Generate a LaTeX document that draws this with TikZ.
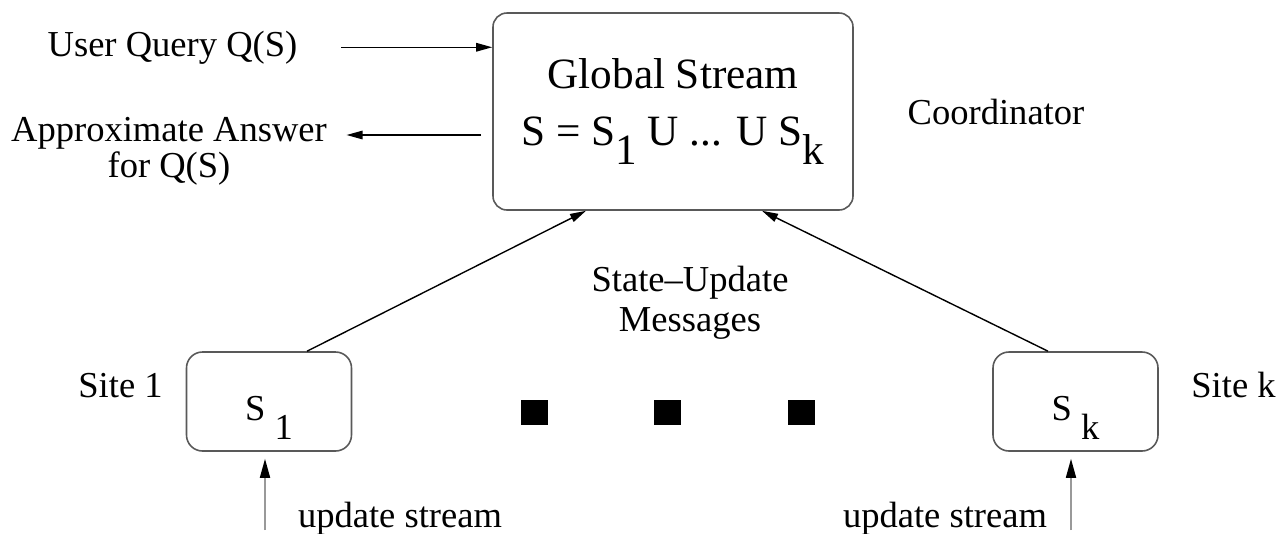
\documentclass[tikz,border=0pt]{standalone}
\usepackage{fontspec}
\setmainfont{Liberation Serif}
\usetikzlibrary{positioning, arrows.meta}

\begin{document}
\begin{tikzpicture}[
        hub/.style={rectangle, rounded corners=0.14cm, draw=black!65, line width=0.45pt, minimum width=3.6cm, minimum height=1.97cm, align=center, inner sep=0pt, font=\fontsize{12.3}{14}\selectfont},
        site/.style={rectangle, rounded corners=0.16cm, draw=black!65, line width=0.45pt, minimum width=1.65cm, minimum height=0.99cm, inner sep=0pt, text height=0.45cm, text depth=0.08cm, font=\fontsize{10.4}{12}\selectfont},
        txt/.style={inner sep=0pt, font=\fontsize{10.4}{12}\selectfont},
        dot/.style={rectangle, fill=black, inner sep=0pt, minimum width=0.27cm, minimum height=0.25cm},
        flow/.style={-{Triangle[length=0.16cm, width=0.085cm]}, line width=0.4pt},
        feed/.style={-{Triangle[length=0.19cm, width=0.1cm, black]}, draw=black!40, line width=0.5pt}
    ]
    \useasboundingbox (0,0) rectangle (12.81,5.33);
    \coordinate (ground) at (0,0.03);

    % coordinator and the sites
    \node[hub] (coord) at (6.73, 4.215) {Global Stream\\[2.4pt]S = S\raisebox{-0.44em}{1} U ... U S\raisebox{-0.44em}{k}};
    \node[site] (site1) at (2.69, 1.315) {S \raisebox{-0.54em}{1}};
    \node[site] (sitek) at (10.755, 1.315) {S \raisebox{-0.54em}{k}};

    % texts round the boxes
    \node[txt, anchor=base] (query) at (1.725, 4.77) {User Query Q(S)};
    \node[txt, anchor=north, align=center] (answer) at (1.69, 4.16) {Approximate Answer\\[-1.8pt]for Q(S)};
    \node[txt, anchor=base] (coordname) at (9.96, 4.09) {Coordinator};
    \node[txt, anchor=north, align=center] (msgs) at (6.90, 2.68) {State--Update\\[-0.6pt]Messages};
    \node[txt, anchor=base] (site1name) at (1.205, 1.36) {Site 1};
    \node[txt, anchor=base] (sitekname) at (12.335, 1.36) {Site k};
    \node[txt, anchor=base] (stream1) at (4.00, 0.06) {update stream};
    \node[txt, anchor=base] (streamk) at (9.45, 0.06) {update stream};

    % the sites in between
    \foreach \i/\x in {1/5.34, 2/6.675, 3/8.01} {
        \node[dot] (gap\i) at (\x, 1.21) {};
    }

    % query in, answer out
    \coordinate (answertip) at ([xshift=0.19cm, yshift=-0.18cm]answer.north east);
    \draw[flow] ([xshift=0.43cm]query.east) -- (query.east -| coord.west);
    \draw[flow] ([xshift=-0.11cm]coord.west |- answertip) -- (answertip);

    % state-update messages
    \draw[flow] ([xshift=0.38cm]site1.north) -- ([xshift=-0.87cm]coord.south);
    \draw[flow] ([xshift=-0.275cm]sitek.north) -- ([xshift=0.89cm]coord.south);

    % update streams
    \draw[feed] ([xshift=-0.04cm]site1.south |- ground) -- ([xshift=-0.04cm, yshift=-0.07cm]site1.south);
    \draw[feed] ([xshift=-0.045cm]sitek.south |- ground) -- ([xshift=-0.045cm, yshift=-0.07cm]sitek.south);
\end{tikzpicture}
\end{document}
